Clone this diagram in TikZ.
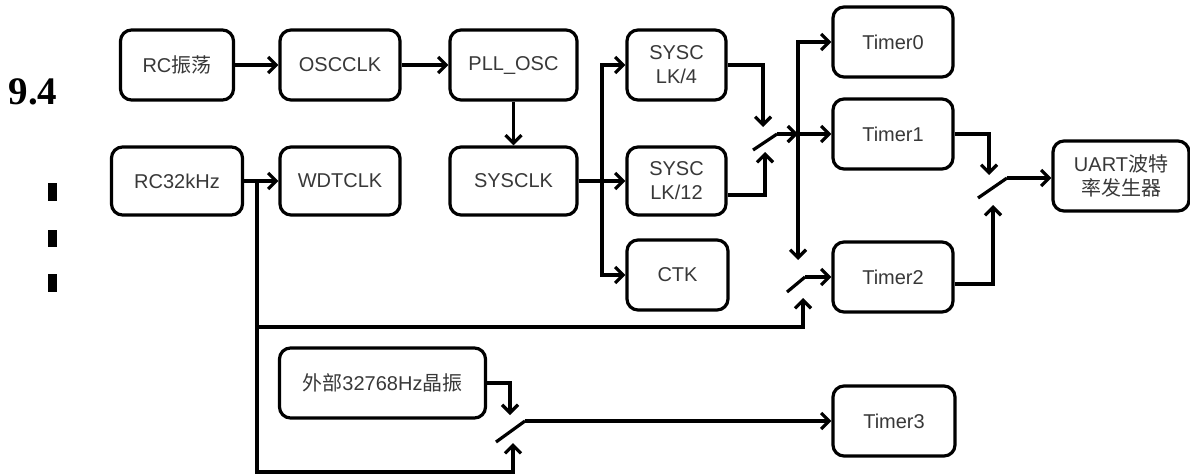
\documentclass[tikz,border=0pt]{standalone}
\usepackage{fontspec}
\setmainfont{Liberation Sans}
\newfontfamily\cjk{Noto Sans CJK SC}
\newfontfamily\titlefont{Liberation Serif}
\usetikzlibrary{arrows.meta,calc}
\begin{document}
\begin{tikzpicture}[x=1pt,y=-1pt,
  box/.style={draw, line width=3.2pt, rounded corners=11pt, minimum width=#1, minimum height=70pt,
    inner sep=2pt, align=center, font=\fontsize{20}{24}\selectfont, text=black!78},
  box/.default=120pt,
  conn/.style={line width=3.2pt, -{Straight Barb[length=8pt,width=16pt]}},
  wire/.style={line width=3.2pt},
  barmark/.style={fill=black},
]
\useasboundingbox (0,0) rectangle (1190,475);

% left-side fragments
\node[font=\titlefont\bfseries\fontsize{39}{42}\selectfont, inner sep=0pt] (title) at (33,92) {9.4};
\fill[barmark] (48,183) rectangle (57,201);
\fill[barmark] (48,230) rectangle (57,247);
\fill[barmark] (48,274) rectangle (57,292);

% boxes
\node[box=113pt] (rc) at (177,65) {RC{\cjk 振荡}};
\node[box=120pt] (osc) at (340,65) {OSCCLK};
\node[box=127pt] (pll) at (513.5,65) {PLL\_OSC};
\node[box=99pt] (sc4) at (676.5,65) {SYSC\\LK/4};
\node[box=131pt, minimum height=68pt] (rc32) at (177,181) {RC32kHz};
\node[box=120pt, minimum height=68pt] (wdt) at (340,181) {WDTCLK};
\node[box=127pt, minimum height=68pt] (sys) at (513.5,181) {SYSCLK};
\node[box=99pt, minimum height=68pt] (sc12) at (676.5,181) {SYSC\\LK/12};
\node[box=101pt] (ctk) at (677.5,275) {CTK};
\node[box=120pt] (t0) at (893,42) {Timer0};
\node[box=120pt] (t1) at (893,134) {Timer1};
\node[box=120pt] (t2) at (893,277) {Timer2};
\node[box=122pt] (t3) at (894,421) {Timer3};
\node[box=136pt] (uart) at (1121,176) {UART{\cjk 波特}\\{\cjk 率发生器}};
\node[box=206pt] (ext) at (382.5,383) {{\cjk 外部}32768Hz{\cjk 晶振}};

% simple connections
\draw[conn] (rc) -- (osc);
\draw[conn] (osc) -- (pll);
\draw[conn] (pll) -- (sys);
\draw[conn] (rc32) -- (wdt);
\draw[conn] (sys) -- (sc12);

% SYSCLK bus
\coordinate (b1) at (602,181);
\draw[conn] (b1) |- (sc4.west);
\draw[conn] (b1) |- (ctk.west);

% switch 1 (SYSCLK/4 or /12)
\coordinate (s1in1) at (763,127);
\coordinate (s1in2) at (765,152);
\coordinate (s1a) at (753,150);
\coordinate (s1b) at (777,134);
\coordinate (bus) at (798,134);
\coordinate (s2top) at (798,260);
\coordinate (sc12o) at ($(sc12.east)+(0,14)$);
\draw[conn] (sc4.east) -| (s1in1);
\draw[conn] (sc12o) -| (s1in2);
\draw[wire] (s1a) -- (s1b);
\draw[conn] (s1b) -- (bus);
\draw[conn] (bus) -- (t1);
\draw[conn] (bus) |- (t0.west);
\draw[conn] (bus) -- (s2top);

% switch 2 (Timer2)
\coordinate (s2a) at (787,292);
\coordinate (s2b) at (805,277);
\coordinate (s2bot) at (803,298);
\draw[wire] (s2a) -- (s2b);
\draw[conn] (s2b) -- (t2);

% RC32kHz branch
\coordinate (j1) at (257,181);
\coordinate (j2) at (257,327);
\coordinate (j3) at (257,472);
\coordinate (s4bot) at (513,443);
\draw[wire] (j1) -- (j2);
\draw[conn] (j2) -| (s2bot);
\draw[conn] (j2) -- (j3) -| (s4bot);

% switch 3 (UART)
\coordinate (s3in1) at (989,175);
\coordinate (s3in2) at (993,205);
\coordinate (s3a) at (978,198);
\coordinate (s3b) at (1007,178);
\coordinate (t2o) at ($(t2.east)+(0,7)$);
\draw[conn] (t1.east) -| (s3in1);
\draw[conn] (t2o) -| (s3in2);
\draw[wire] (s3a) -- (s3b);
\draw[conn] (s3b) -- (s3b -| uart.west);

% switch 4 (Timer3)
\coordinate (s4in1) at (510,415);
\coordinate (s4a) at (496,442);
\coordinate (s4b) at (525,421);
\draw[conn] (ext.east) -| (s4in1);
\draw[wire] (s4a) -- (s4b);
\draw[conn] (s4b) -- (s4b -| t3.west);
\end{tikzpicture}
\end{document}
